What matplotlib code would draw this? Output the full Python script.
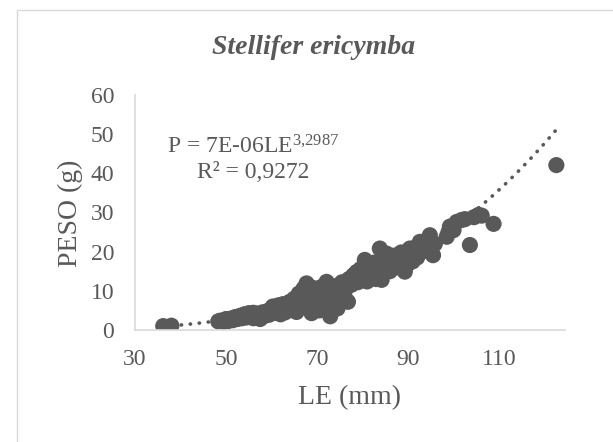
import matplotlib
matplotlib.use("Agg")
import matplotlib.pyplot as plt
import numpy as np
from matplotlib.patches import Rectangle

plt.rcParams['font.family'] = ['Liberation Serif', 'DejaVu Serif']
plt.rcParams['mathtext.fontset'] = 'custom'
plt.rcParams['mathtext.rm'] = 'Liberation Serif'
plt.rcParams['mathtext.it'] = 'Liberation Serif:italic'

LE = [36.2, 38.0,
      48.3, 48.8, 49.5, 50.0, 50.5, 51.0, 51.5, 52.0, 52.5, 53.0, 53.5, 54.0, 54.5,
      55.0, 55.5, 56.0, 56.5, 57.0, 57.5, 58.0, 58.5, 59.0, 59.5, 60.0, 60.3, 61.0,
      61.5, 62.0, 62.5, 63.0, 63.5, 64.0, 64.5, 65.0, 65.5, 66.0, 66.5, 67.0, 67.7,
      68.0, 68.5, 68.8, 69.0, 69.5, 70.0, 70.5, 71.0, 71.5, 72.1, 72.5, 72.9, 73.5,
      74.0, 74.5, 75.0, 75.5, 76.0, 76.8, 77.0, 77.5, 78.0, 78.7, 79.0, 79.5, 80.0,
      80.5, 81.0, 81.5, 82.0, 82.5, 83.0, 83.8, 84.2, 84.6, 85.0, 85.3, 86.0, 86.5,
      87.0, 87.5, 88.0, 88.5, 89.3, 89.7, 90.0, 90.4, 91.0, 91.5, 92.0, 92.6, 93.0,
      93.5, 94.0, 94.8, 95.5, 95.9, 98.5, 98.9, 99.2, 100.0, 100.7, 101.8, 102.5,
      103.6, 104.5, 105.5, 106.2, 108.8, 122.6,
      56.0, 62.0, 66.0, 70.0, 73.0, 78.0, 82.0, 86.0, 90.0]
PESO = [1.0, 1.1,
        2.2, 2.4, 2.1, 2.8, 2.3, 2.9, 2.5, 3.3, 2.8, 3.6, 3.0, 4.0, 3.2,
        4.3, 3.5, 4.4, 3.4, 4.2, 2.8, 4.5, 3.6, 4.8, 3.9, 5.4, 6.0, 4.4,
        6.3, 5.0, 6.6, 4.5, 5.8, 7.2, 5.2, 8.0, 4.6, 9.3, 6.5, 10.5, 11.9,
        7.5, 9.0, 4.3, 10.8, 6.2, 9.8, 5.0, 11.0, 7.8, 12.3, 9.5, 3.5, 6.5,
        11.2, 5.5, 10.5, 12.2, 9.0, 7.2, 13.0, 11.5, 14.0, 14.8, 12.2, 15.5, 13.5,
        17.9, 12.4, 16.0, 14.5, 17.2, 13.0, 20.8, 12.8, 16.5, 18.5, 19.5, 15.0, 17.5,
        19.0, 16.0, 18.0, 19.8, 14.9, 16.5, 19.5, 20.8, 17.5, 21.0, 18.5, 22.5, 20.0,
        21.5, 22.8, 24.2, 19.1, 22.0, 23.8, 25.0, 26.4, 25.5, 27.6, 28.1, 28.3,
        21.7, 28.8, 29.4, 29.2, 27.1, 42.1,
        3.0, 4.0, 7.0, 7.0, 8.5, 12.0, 15.5, 18.0, 17.0]

coef_a = 6.6e-6
coef_b = 3.2987
x_ticks = [30, 50, 70, 90, 110]
y_ticks = [0, 10, 20, 30, 40, 50, 60]

W, H = 613, 442
fig = plt.figure(figsize=(W / 100, H / 100), dpi=100)
fig.patch.set_facecolor('white')

# outer frame
fig.patches.append(Rectangle((17 / W, -0.05), 1.2, 1 - 10 / H + 0.05, transform=fig.transFigure,
                             fill=False, edgecolor='#d9d9d9', linewidth=1.0))

ax = fig.add_axes([135 / W, 1 - 330 / H, (565 - 135) / W, (330 - 95) / H])
gray = '#595959'

xs = np.linspace(min(LE), max(LE), 300)
ax.plot(xs, coef_a * xs ** coef_b, color=gray, linestyle=(0, (0.1, 2.4)), linewidth=2.6,
        dash_capstyle='round', zorder=3)
ax.scatter(LE, PESO, s=135, color=gray, edgecolors='none', zorder=2)

ax.set_xlim(30, 124.5)
ax.set_ylim(0, 60)
ax.set_xticks(x_ticks)
ax.set_yticks(y_ticks)
ax.tick_params(length=0, labelsize=17, colors=gray)
ax.tick_params(axis='x', pad=14)
ax.tick_params(axis='y', pad=15)
for s in ['top', 'right']:
    ax.spines[s].set_visible(False)
for s in ['left', 'bottom']:
    ax.spines[s].set_color('#d9d9d9')
    ax.spines[s].set_linewidth(1.2)
ax.set_facecolor('none')

fig.text(314 / W, 1 - 47 / H, 'Stellifer ericymba', ha='center', va='center',
         fontsize=20, fontweight='bold', fontstyle='italic', color=gray)
fig.text(350 / W, 1 - 398 / H, 'LE (mm)', ha='center', va='center', fontsize=20, color=gray)
fig.text(70 / W, 1 - 213 / H, 'PESO (g)', ha='center', va='center', fontsize=20,
         color=gray, rotation=90)

fig.text(253 / W, 1 - 147 / H, r'P = 7E-06LE$^{\mathrm{3{,}2987}}$', ha='center', va='center',
         fontsize=17, color=gray)
fig.text(253 / W, 1 - 172 / H, 'R² = 0,9272', ha='center', va='center',
         fontsize=17, color=gray)

fig.savefig('out.png', dpi=100)
